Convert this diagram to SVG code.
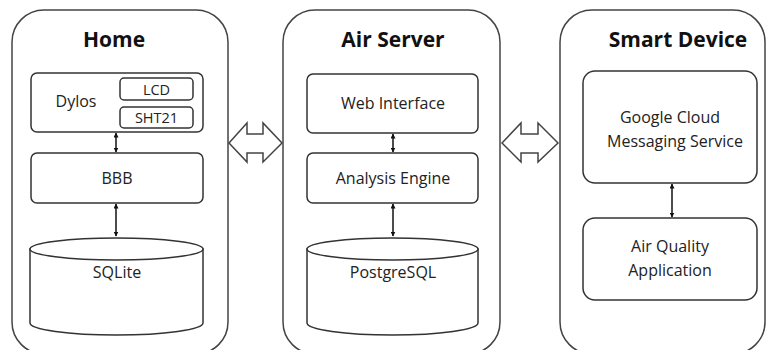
<svg xmlns="http://www.w3.org/2000/svg" width="769" height="350" viewBox="0 0 769 350">
<style>
.cont{fill:#fff;stroke:#444;stroke-width:1.5}
.box{fill:#fff;stroke:#333;stroke-width:1.5}
.t{font-family:"Open Sans","Noto Sans",sans-serif;font-size:16px;fill:#222;text-anchor:middle}
.s{font-size:14.5px}
.h{font-family:"Open Sans","Noto Sans",sans-serif;font-size:21px;font-weight:bold;fill:#111;text-anchor:middle}
.c{stroke:#111;stroke-width:1.5;fill:none;marker-start:url(#ah);marker-end:url(#ah)}
.blk{fill:#fff;stroke:#444;stroke-width:1.5}
</style>
<defs>
<marker id="ah" viewBox="0 0 10 10" refX="9" refY="5" markerWidth="5" markerHeight="5" orient="auto-start-reverse" markerUnits="userSpaceOnUse"><path d="M0,0 L10,5 L0,10 z" fill="#111"/></marker>
</defs>
<rect width="769" height="350" fill="#fff"/>
<g id="home">
<rect class="cont" x="12" y="10" width="216" height="344" rx="32"/>
<text class="h" x="114" y="47">Home</text>
</g>
<g id="dylos">
<rect class="box" x="31" y="73" width="172" height="59" rx="6"/>
<text class="t" x="76" y="107">Dylos</text>
</g>
<g id="lcd">
<rect class="box" x="120" y="78" width="73" height="22" rx="4"/>
<text class="t s" x="156.5" y="94.5">LCD</text>
</g>
<g id="sht21">
<rect class="box" x="120" y="107" width="73" height="21" rx="4"/>
<text class="t s" x="156.5" y="123">SHT21</text>
</g>
<g id="bbb">
<rect class="box" x="31" y="153" width="172" height="50" rx="6"/>
<text class="t" x="117" y="184">BBB</text>
</g>
<g id="sqlite">
<path class="box" d="M30,249 L30,323 A86.5,12 0 0 0 203,323 L203,249 Z"/>
<ellipse class="box" cx="116.5" cy="249" rx="86.5" ry="11"/>
<text class="t" x="117" y="278">SQLite</text>
</g>
<g id="airserver">
<rect class="cont" x="283" y="10" width="217" height="344" rx="32"/>
<text class="h" x="393" y="47">Air Server</text>
</g>
<g id="webinterface">
<rect class="box" x="307" y="74" width="171" height="59" rx="6"/>
<text class="t" x="393" y="109">Web Interface</text>
</g>
<g id="analysis">
<rect class="box" x="307" y="153" width="171" height="50" rx="6"/>
<text class="t" x="393" y="184">Analysis Engine</text>
</g>
<g id="postgresql">
<path class="box" d="M307,249 L307,323 A85.5,12 0 0 0 478,323 L478,249 Z"/>
<ellipse class="box" cx="392.5" cy="249" rx="85.5" ry="11"/>
<text class="t" x="393" y="278">PostgreSQL</text>
</g>
<g id="smartdevice">
<rect class="cont" x="560" y="10" width="205" height="344" rx="32"/>
<text class="h" x="678" y="47">Smart Device</text>
</g>
<g id="gcm">
<rect class="box" x="583" y="71" width="174" height="112" rx="12"/>
<text class="t" x="670" y="123">Google Cloud</text>
<text class="t" x="675" y="147">Messaging Service</text>
</g>
<g id="aqa">
<rect class="box" x="583" y="218" width="174" height="82" rx="12"/>
<text class="t" x="670" y="252">Air Quality</text>
<text class="t" x="670" y="276">Application</text>
</g>
<g id="connectors">
<line class="c" x1="116" y1="133" x2="116" y2="152"/>
<line class="c" x1="116" y1="204" x2="116" y2="236"/>
<line class="c" x1="393" y1="134" x2="393" y2="152"/>
<line class="c" x1="393" y1="204" x2="393" y2="236"/>
<line class="c" x1="672" y1="184" x2="672" y2="217"/>
<path class="blk" d="M229,143 L247,123 L247,134 L263,134 L263,123 L282,143 L263,162 L263,153 L247,153 L247,162 Z"/>
<path class="blk" d="M502,143 L521,123 L521,134 L538,134 L538,123 L558,143 L538,162 L538,153 L521,153 L521,162 Z"/>
</g>
</svg>
